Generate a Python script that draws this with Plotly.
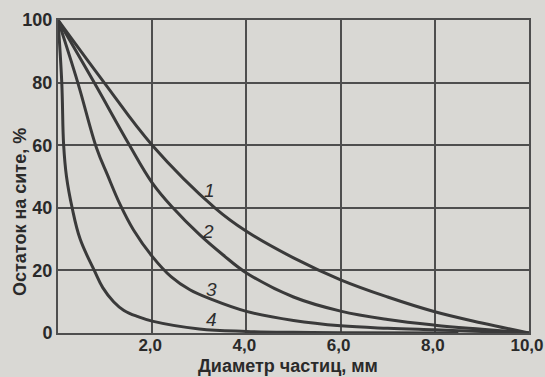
import plotly.graph_objects as go

# Curve data (diameter, mm -> residue on sieve, %)
c1_x = [0, 0.98, 2.0, 3.33, 4.0, 5.0, 6.0, 7.0, 8.0, 9.0, 10.0]
c1_y = [100, 80, 60, 40, 32.5, 24, 17, 11.5, 6.8, 3.2, 0]

c2_x = [0, 0.75, 1.5, 2.0, 2.44, 3.0, 3.5, 4.0, 5.0, 6.0, 7.0, 8.0, 9.0, 10.0]
c2_y = [100, 80.5, 60.5, 48, 40, 31.5, 25, 19.2, 11.5, 7.0, 4.3, 2.5, 1.2, 0]

c3_x = [0, 0.42, 0.82, 1.05, 1.32, 1.6, 2.0, 2.4, 2.8, 3.25, 4.0, 5.0, 6.0, 7.0, 8.0, 9.0, 10.0]
c3_y = [100, 80, 59, 50.5, 41, 33, 24.5, 18, 13.8, 10.8, 6.9, 4.0, 2.3, 1.5, 1.0, 0.5, 0]

c4_x = [0, 0.08, 0.12, 0.18, 0.3, 0.47, 0.77, 0.95, 1.18, 1.4, 1.7, 2.0, 3.0, 4.0, 5.0, 6.0, 8.5]
c4_y = [100, 80, 60, 50, 40, 30, 20, 14.5, 10, 7.2, 5.2, 3.8, 1.3, 0.5, 0.2, 0.1, 0]

curve_labels = ["1", "2", "3", "4"]
label_x = [3.22, 3.18, 3.25, 3.25]
label_y = [45.5, 32.5, 14.0, 4.4]

x_ticks = [2, 4, 6, 8, 10]
x_ticktext = ["2,0", "4,0", "6,0", "8,0", "10,0"]
y_ticks = [0, 20, 40, 60, 80, 100]
y_ticktext = ["0", "20", "40", "60", "80", "100"]

x_title = "Диаметр частиц, мм"
y_title = "Остаток на сите, %"

line_color = "#3a3a3a"
grid_color = "#4e4e4e"
bg = "#d9d8d4"
font_family = "Liberation Sans, Arial, sans-serif"

fig = go.Figure()
for xs, ys in [(c1_x, c1_y), (c2_x, c2_y), (c3_x, c3_y), (c4_x, c4_y)]:
    fig.add_trace(go.Scatter(
        x=xs, y=ys, mode="lines",
        line=dict(color=line_color, width=3, shape="spline", smoothing=1.1),
        showlegend=False, hoverinfo="skip"))

for t, lx, ly in zip(curve_labels, label_x, label_y):
    fig.add_annotation(x=lx, y=ly, text="<i>" + t + "</i>", showarrow=False,
                       font=dict(family=font_family, size=19, color="#2e2e2e"))

fig.add_annotation(xref="paper", yref="paper", x=0.488, y=-0.104, text="<b>" + x_title + "</b>",
                   xanchor="center", yanchor="middle",
                   showarrow=False, font=dict(family=font_family, size=18, color="#2a2a2a"))
fig.add_annotation(xref="paper", yref="paper", x=-0.081, y=0.386, text="<b>" + y_title + "</b>",
                   xanchor="center", yanchor="middle",
                   textangle=-90, showarrow=False,
                   font=dict(family=font_family, size=18, color="#2a2a2a"))

axis_common = dict(showgrid=True, gridcolor=grid_color, gridwidth=1.5,
                   showline=True, linecolor=grid_color, linewidth=2, mirror=True,
                   zeroline=False, ticks="", ticklabeloverflow="allow", automargin=False)

fig.update_xaxes(range=[0, 10], tickvals=x_ticks, ticktext=["<b>" + t + "</b>" for t in x_ticktext],
                 ticklabelstandoff=-4, ticklabelshift=-2,
                 tickfont=dict(family=font_family, size=17, color="#2a2a2a"), **axis_common)
fig.update_yaxes(range=[0, 100], tickvals=y_ticks, ticktext=["<b>" + t + "</b>" for t in y_ticktext],
                 tickfont=dict(family=font_family, size=18, color="#2a2a2a"), **axis_common)

fig.update_layout(width=545, height=377, autosize=False,
                  margin=dict(l=58, r=16, t=20, b=44),
                  paper_bgcolor=bg, plot_bgcolor=bg)

fig.write_html("out.html", config={"displayModeBar": False},
               post_script="document.body.style.margin='0';document.body.style.padding='0';"
                           "document.body.style.background='" + bg + "';")
